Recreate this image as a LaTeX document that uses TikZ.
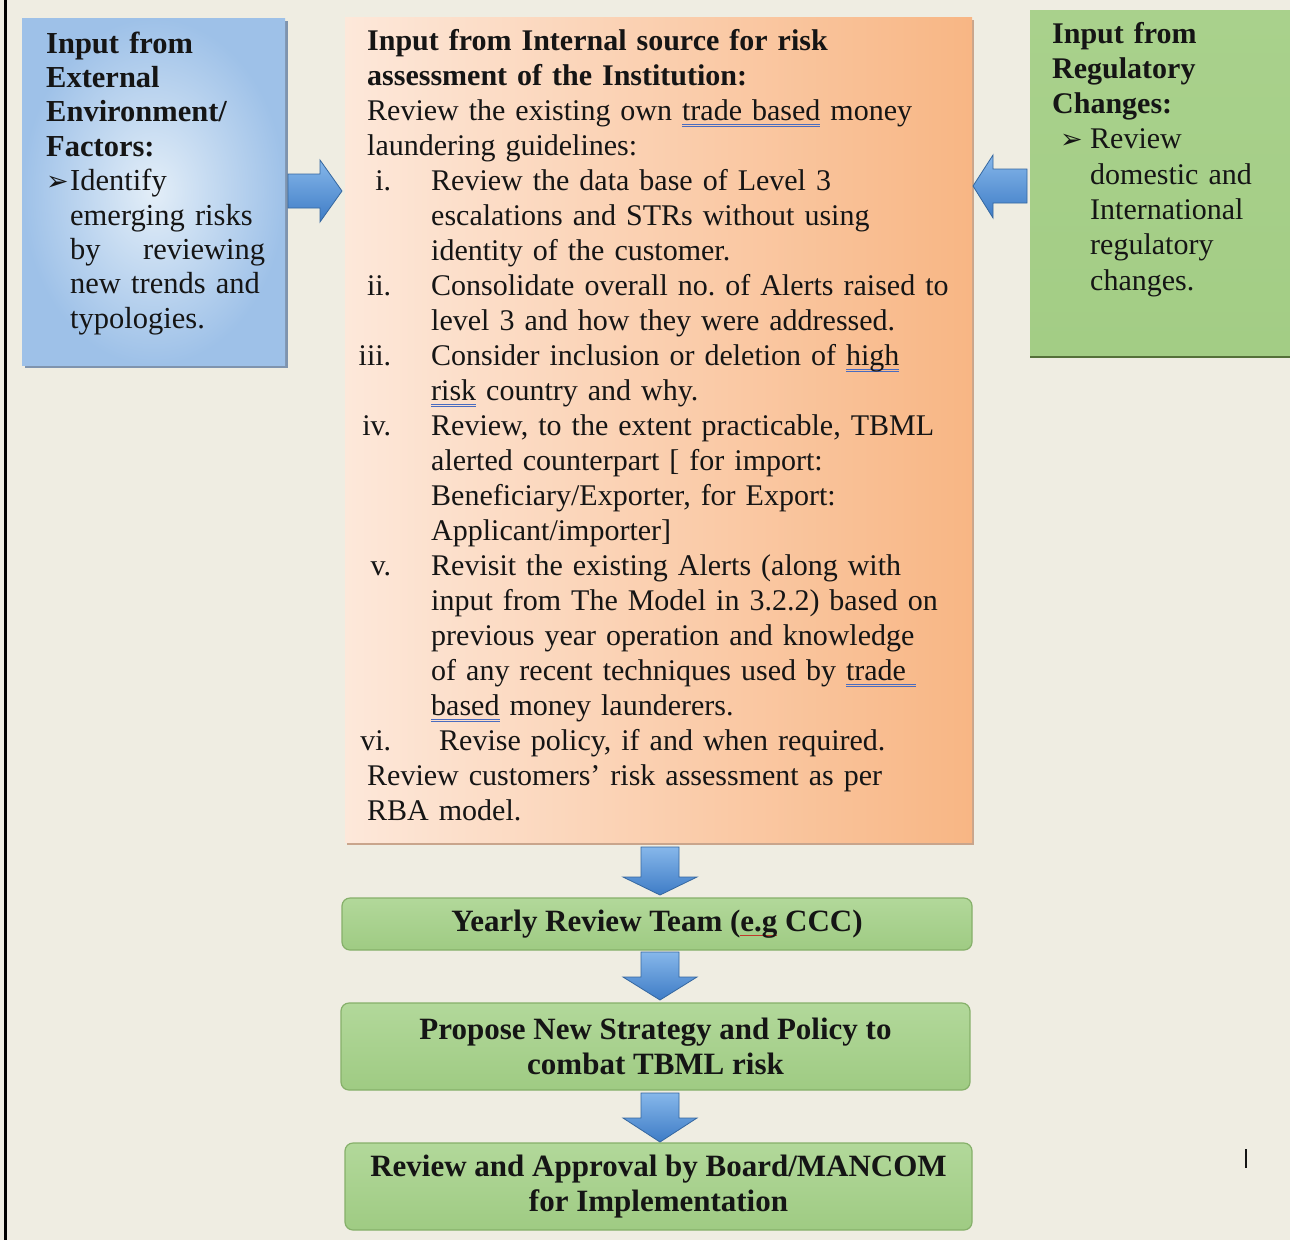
\documentclass[tikz,border=0pt]{standalone}
\usepackage{fontspec}
\setmainfont{Liberation Serif}
\newfontfamily\symfont{DejaVu Sans}
\usetikzlibrary{calc,shadows}
\definecolor{bg}{HTML}{EFEDE2}
\definecolor{ink}{HTML}{151515}
\definecolor{blueL}{HTML}{E3EEF8}
\definecolor{blueD}{HTML}{9EC1E8}
\definecolor{blueS}{HTML}{7F94AE}
\definecolor{peach}{HTML}{FDE8DA}
\definecolor{peachM}{HTML}{FBD6BC}
\definecolor{orangeR}{HTML}{F8B684}
\definecolor{orangeS}{HTML}{C9A58C}
\definecolor{grT}{HTML}{A9D18C}
\definecolor{grM}{HTML}{74AF48}
\definecolor{grB}{HTML}{A3CD85}
\definecolor{grS}{HTML}{55703A}
\definecolor{gbT}{HTML}{B2D89A}
\definecolor{gbB}{HTML}{9FCB83}
\definecolor{gbD}{HTML}{86B06A}
\definecolor{arT}{HTML}{86B7EA}
\definecolor{arB}{HTML}{3E7CC6}
\definecolor{arD}{HTML}{35679F}
\definecolor{ulblue}{HTML}{4A6CC0}
\definecolor{ulred}{HTML}{C0392B}
\newcommand\wordul[1]{\setbox0\hbox{#1}\rlap{\color{ulblue}\rule[-4.5pt]{\wd0}{0.9pt}}\rlap{\color{ulblue}\rule[-7pt]{\wd0}{0.9pt}}\box0\relax}
\newcommand\redul[1]{\setbox0\hbox{#1}\rlap{\color{ulred}\rule[-5pt]{\wd0}{1pt}}\box0\relax}
\newcommand\numlab[1]{\makebox[24pt][r]{#1}\hspace{40pt}}
\newcommand\ind{\hspace*{64pt}}
\newcommand\bulletsym{{\symfont\fontsize{27}{27}\selectfont ➢}}
\newcommand\downblock[3]{%
  \shade[top color=arT,bottom color=arB,draw=arD,line width=0.8pt]
    (641,#1) -- (679,#1) -- (679,#2) -- (697,#2) -- (660,#3) -- (623,#2) -- (641,#2) -- cycle;}
\frenchspacing
\begin{document}
\frenchspacing
\begin{tikzpicture}[x=1pt,y=-1pt,
  txt/.style={anchor=base west,inner sep=0pt,align=left,text=ink},
  bigbox/.style={draw=none,inner sep=0pt},
  gbox/.style={rounded corners=8pt,draw=gbD,line width=1.2pt,top color=gbT,bottom color=gbB,
     align=center,inner sep=0pt,text=ink,font=\bfseries\fontsize{31}{35}\selectfont}]
\useasboundingbox (0,0) rectangle (1290,1240);
\fill[bg] (0,0) rectangle (1290,1240);
\draw[line width=2.2pt,black] (5.5,0) -- (5.5,1240);

% boxes
\node[bigbox,minimum width=263pt,minimum height=347pt,inner color=blueL,outer color=blueD,
  drop shadow={shadow xshift=3pt,shadow yshift=-3pt,fill=blueS,opacity=1}] (ext) at (153.5,191.5) {};
\node[bigbox,minimum width=627pt,minimum height=825pt,left color=peach,middle color=peachM,right color=orangeR,
  drop shadow={shadow xshift=2pt,shadow yshift=-3pt,fill=orangeS,opacity=1}] (int) at (658.5,429.5) {};
\node[bigbox,minimum width=270pt,minimum height=345pt,top color=grT,middle color=grM,bottom color=grB,
  drop shadow={shadow xshift=0pt,shadow yshift=-3pt,fill=grS,opacity=1}] (reg) at (1165,182.5) {};

% texts
\node[txt,text width=240pt,font=\fontsize{30.5}{34.4}\selectfont] (exttext) at (46,53) {%
{\bfseries Input from}\\
{\bfseries External}\\
{\bfseries Environment/}\\
{\bfseries Factors:}\\
\makebox[24pt][l]{\bulletsym}Identify\\
\hspace*{24pt}emerging risks\\
\hspace*{24pt}\hbox to 195pt{by\hfill reviewing}\\
\hspace*{24pt}new trends and\\
\hspace*{24pt}typologies.};

\node[txt,text width=600pt,font=\fontsize{30}{35}\selectfont] (inttext) at (367,50) {%
{\bfseries Input from Internal source for risk}\\
{\bfseries assessment of the Institution:}\\
Review the existing own \wordul{trade based} money\\
laundering guidelines:\\
\numlab{i.}Review the data base of Level 3\\
\ind escalations and STRs without using\\
\ind identity of the customer.\\
\numlab{ii.}Consolidate overall no. of Alerts raised to\\
\ind level 3 and how they were addressed.\\
\numlab{iii.}Consider inclusion or deletion of \wordul{high}\\
\ind\wordul{risk} country and why.\\
\numlab{iv.}Review, to the extent practicable, TBML\\
\ind alerted counterpart [ for import:\\
\ind Beneficiary/Exporter, for Export:\\
\ind Applicant/importer]\\
\numlab{v.}Revisit the existing Alerts (along with\\
\ind input from The Model in 3.2.2) based on\\
\ind previous year operation and knowledge\\
\ind of any recent techniques used by \wordul{trade\ }\\
\ind\wordul{based} money launderers.\\
\makebox[24pt][r]{vi.}\hspace{48pt}Revise policy, if and when required.\\
Review customers' risk assessment as per\\
RBA model.};

\node[txt,text width=240pt,font=\fontsize{30}{35.3}\selectfont] (regtext) at (1052,43) {%
{\bfseries Input from}\\
{\bfseries Regulatory}\\
{\bfseries Changes:}\\
\hspace*{8pt}\makebox[30pt][l]{\bulletsym}Review\\
\hspace*{38pt}domestic and\\
\hspace*{38pt}International\\
\hspace*{38pt}regulatory\\
\hspace*{38pt}changes.};

% side arrows
\shade[top color=arT,bottom color=arB,draw=arD,line width=0.8pt]
  (288,174) -- (320,174) -- (320,160) -- (342,191) -- (320,222) -- (320,208) -- (288,208) -- cycle;
\shade[top color=arT,bottom color=arB,draw=arD,line width=0.8pt]
  (1027,169) -- (993,169) -- (993,155) -- (973,186) -- (993,218) -- (993,203) -- (1027,203) -- cycle;

% bottom flow
\node[gbox,minimum width=630pt,minimum height=52pt] (yr) at (657,924) {Yearly Review Team (\redul{e.g} CCC)};
\node[gbox,minimum width=629pt,minimum height=87pt] (pr) at (655.5,1046.5) {Propose New Strategy and Policy to\\combat TBML risk};
\node[gbox,minimum width=627pt,minimum height=87pt] (ra) at (658.5,1186.5) {Review and Approval by Board/MANCOM\\for Implementation};

\downblock{847}{877}{895}
\downblock{952}{977}{1000}
\downblock{1093}{1118}{1142}

\draw[line width=1.6pt,ink] (1246,1149) -- (1246,1168);
\end{tikzpicture}
\end{document}
